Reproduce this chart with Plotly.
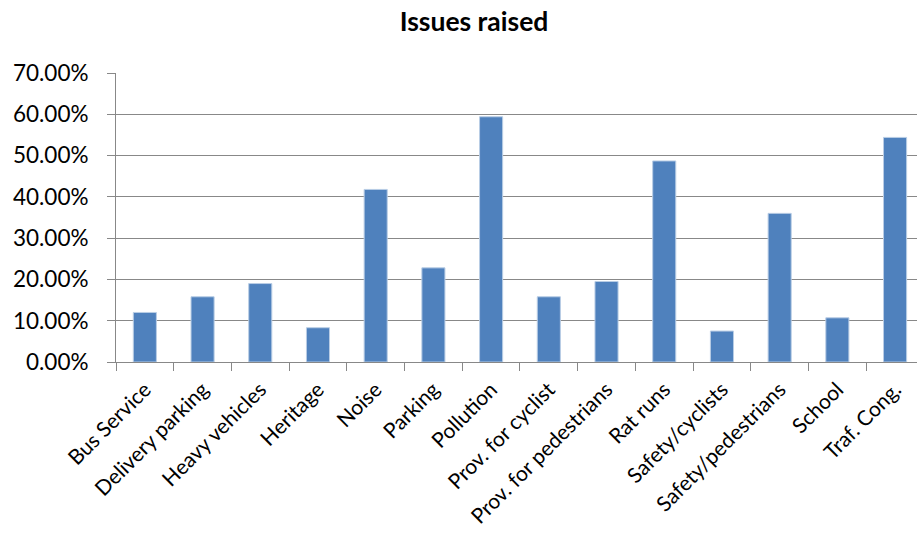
import plotly.graph_objects as go

categories = ["Bus Service", "Delivery parking", "Heavy vehicles", "Heritage", "Noise",
              "Parking", "Pollution", "Prov. for cyclist", "Prov. for pedestrians",
              "Rat runs", "Safety/cyclists", "Safety/pedestrians", "School", "Traf. Cong."]
values = [0.120, 0.158, 0.190, 0.083, 0.418, 0.228, 0.594, 0.158, 0.195,
          0.487, 0.075, 0.360, 0.107, 0.544]
y_ticks = [0, 0.1, 0.2, 0.3, 0.4, 0.5, 0.6, 0.7]

FONT = "Lato"
GRID = "#888888"

fig = go.Figure(go.Bar(
    x=categories, y=values,
    marker=dict(color="#4F81BD", line=dict(color="#B9CDE5", width=1)),
))

fig.update_layout(
    width=917, height=533,
    margin=dict(l=116, r=0, t=73, b=171),
    paper_bgcolor="white", plot_bgcolor="white",
    bargap=0.6,
    showlegend=False,
    font=dict(family=FONT, color="black"),
    title=dict(text="<b>Issues raised</b>", x=474/917, xref="container", xanchor="center",
               y=1 - 22/533, yref="container", yanchor="middle",
               font=dict(family=FONT, size=26.5, color="black")),
)

fig.update_yaxes(
    range=[0, 0.7], tickvals=y_ticks, tickformat=".2%",
    showgrid=True, gridcolor=GRID, gridwidth=1,
    showline=True, linecolor=GRID, linewidth=1,
    ticks="outside", ticklen=8, tickcolor=GRID,
    ticklabelstandoff=14,
    tickfont=dict(family=FONT, size=22.5, color="black"),
    zeroline=False,
)
fig.update_xaxes(
    range=[-0.5, 13.38], type="category",
    tickson="boundaries", ticks="outside", ticklen=8, tickcolor=GRID,
    showline=True, linecolor=GRID, linewidth=1,
    showgrid=False,
    tickangle=-45,
    ticklabelstandoff=6,
    tickfont=dict(family=FONT, size=21, color="black"),
)

fig.write_html("out.html")
